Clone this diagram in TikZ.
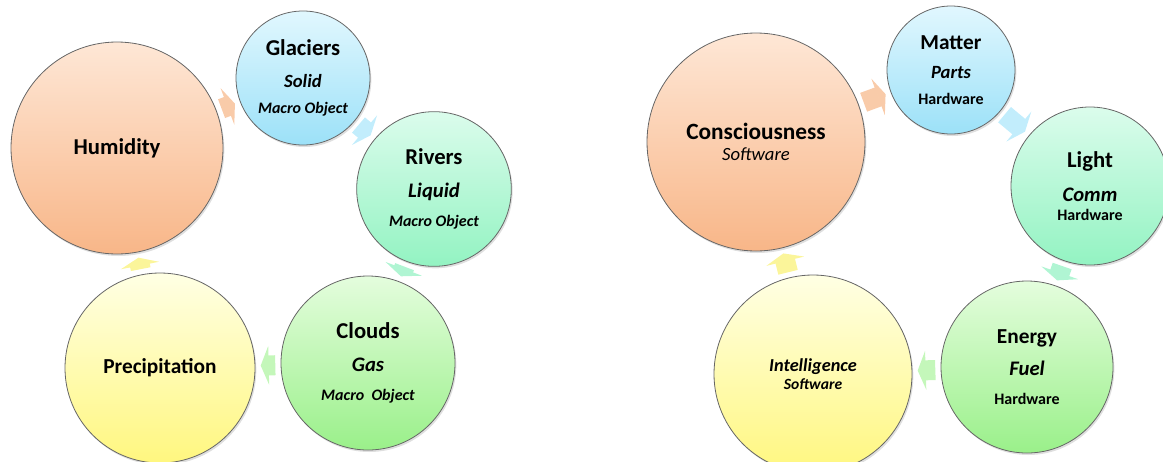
\documentclass[tikz,border=0pt]{standalone}
\usepackage{fontspec}
\setmainfont{Carlito}
\usetikzlibrary{arrows.meta,shadows}

\definecolor{orangetop}{HTML}{FEE7D6}
\definecolor{orangebot}{HTML}{F8B688}
\definecolor{bluetop}{HTML}{E1F7FE}
\definecolor{bluebot}{HTML}{9CE1F8}
\definecolor{tealtop}{HTML}{DBFCEC}
\definecolor{tealbot}{HTML}{93F3C2}
\definecolor{greentop}{HTML}{E4FDDD}
\definecolor{greenbot}{HTML}{9AF08A}
\definecolor{yellowtop}{HTML}{FFFFE4}
\definecolor{yellowbot}{HTML}{FFF77F}
\definecolor{orangearrow}{HTML}{F9CBA9}
\definecolor{bluearrow}{HTML}{C2EDFC}
\definecolor{tealarrow}{HTML}{B0F5D3}
\definecolor{greenarrow}{HTML}{C4F7BA}
\definecolor{yellowarrow}{HTML}{FBF59A}

\begin{document}
\begin{tikzpicture}[x=0.75pt,y=-0.75pt,
		ball/.style={circle,draw=black!60,line width=0.6pt,inner sep=0pt,align=center,
			font=\fontsize{12}{14}\selectfont,
			drop shadow={opacity=0.25,shadow xshift=1pt,shadow yshift=-1.5pt}},
		orangeball/.style={ball,top color=orangetop,bottom color=orangebot},
		blueball/.style={ball,top color=bluetop,bottom color=bluebot},
		tealball/.style={ball,top color=tealtop,bottom color=tealbot},
		greenball/.style={ball,top color=greentop,bottom color=greenbot},
		yellowball/.style={ball,top color=yellowtop,bottom color=yellowbot},
		cyclearrow/.style={line width=15pt,shorten <=4pt,shorten >=4pt,
			-{Triangle[width=29pt,length=6pt]}}
		]
		\useasboundingbox (0,0) rectangle (1163,461);
		
		% water cycle
		\node[orangeball, minimum size=159pt](hum) at (117,148)
		{{\fontsize{17}{20}\selectfont\bfseries Humidity}};
		\node[blueball, minimum size=100.5pt](gla) at (303,78)
		{{\fontsize{17}{20}\selectfont\bfseries Glaciers}\\[10.3pt]
			{\fontsize{14}{17}\selectfont\bfseries\itshape Solid}\\[5.5pt]
			{\bfseries\itshape Macro Object}};
		\node[tealball, minimum size=116pt](riv) at (434,189)
		{{\fontsize{17}{20}\selectfont\bfseries Rivers}\\[10.7pt]
			{\fontsize{15.5}{18}\selectfont\bfseries\itshape Liquid}\\[7.4pt]
			{\bfseries\itshape Macro Object}};
		\node[greenball, minimum size=130.5pt](clo) at (368,363)
		{{\fontsize{17}{20}\selectfont\bfseries Clouds}\\[10.7pt]
			{\fontsize{15.5}{18}\selectfont\bfseries\itshape Gas}\\[8pt]
			{\bfseries\itshape Macro~ Object}};
		\node[yellowball, minimum size=142.5pt](pre) at (160,368)
		{{\fontsize{16}{19}\selectfont\bfseries Precipitation}};
		
		\draw[cyclearrow, draw=orangearrow] (hum) -- (gla);
		\draw[cyclearrow, draw=bluearrow] (gla) -- (riv);
		\draw[cyclearrow, draw=tealarrow] (riv) -- (clo);
		\draw[cyclearrow, draw=greenarrow] (clo) -- (pre);
		\draw[cyclearrow, draw=yellowarrow] (pre) -- (hum);
		
		% hardware / software cycle
		\node[orangeball, minimum size=163.5pt](con) at (756,142)
		{{\fontsize{17.5}{20}\selectfont\bfseries Consciousness}\\[2pt]
			{\fontsize{14}{17}\selectfont\itshape Software}};
		\node[blueball, minimum size=96pt](mat) at (951,70)
		{{\fontsize{16}{19}\selectfont\bfseries Matter}\\[7.9pt]
			{\fontsize{14}{17}\selectfont\bfseries\itshape Parts}\\[5.5pt]
			{\bfseries Hardware}};
		\node[tealball, minimum size=118.5pt](lig) at (1090,186)
		{{\fontsize{17}{20}\selectfont\bfseries Light}\\[11.6pt]
			{\fontsize{15.5}{18}\selectfont\bfseries\itshape Comm}\\[0.5pt]
			{\bfseries Hardware}};
		\node[greenball, minimum size=129pt](ene) at (1027,367)
		{{\fontsize{16}{19}\selectfont\bfseries Energy}\\[10pt]
			{\fontsize{15.5}{18}\selectfont\bfseries\itshape Fuel}\\[7.3pt]
			{\bfseries Hardware}};
		\node[yellowball, minimum size=148.5pt](int) at (813,374)
		{{\fontsize{13.7}{16}\selectfont\bfseries\itshape Intelligence}\\[-1pt]
			{\fontsize{11.7}{14}\selectfont\bfseries\itshape Software}};
		
		\draw[cyclearrow, draw=orangearrow] (con) -- (mat);
		\draw[cyclearrow, draw=bluearrow] (mat) -- (lig);
		\draw[cyclearrow, draw=tealarrow] (lig) -- (ene);
		\draw[cyclearrow, draw=greenarrow] (ene) -- (int);
		\draw[cyclearrow, draw=yellowarrow] (int) -- (con);
	\end{tikzpicture}
\end{document}
